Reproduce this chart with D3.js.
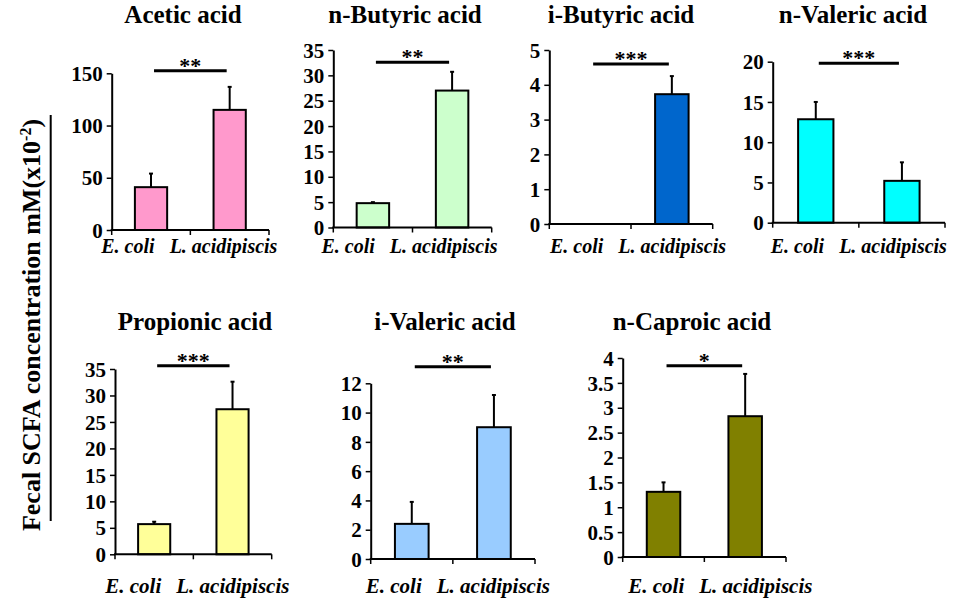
<!DOCTYPE html>
<html>
<head>
<meta charset="utf-8">
<script src="https://cdn.jsdelivr.net/npm/d3@7/dist/d3.min.js"></script>
<style>
    body { margin: 0; background: #fff; }
    svg text { font-family: "Liberation Serif", "Times New Roman", Times, Tinos, "DejaVu Serif", serif; font-weight: bold; fill: #000; }
</style>
</head>
<body>
<div id="chart"></div>
<script>
//两组菌
const groups = ['E. coli', 'L. acidipiscis'];
const acids = ['Acetic acid', 'n-Butyric acid', 'i-Butyric acid', 'n-Valeric acid',
    'Propionic acid', 'i-Valeric acid', 'n-Caproic acid'];
//均值 [E. coli, L. acidipiscis]
const means = [[41, 115], [4.8, 27], [0, 3.73], [12.85, 5.2], [5.7, 27.4], [2.4, 9.0], [1.31, 2.83]];
//误差（只画上半）
const errors = [[13, 22], [0.2, 3.7], [0, 0.52], [2.15, 2.3], [0.45, 5.2], [1.5, 2.2], [0.19, 0.85]];
const yTicks = [
    [0, 50, 100, 150],
    [0, 5, 10, 15, 20, 25, 30, 35],
    [0, 1, 2, 3, 4, 5],
    [0, 5, 10, 15, 20],
    [0, 5, 10, 15, 20, 25, 30, 35],
    [0, 2, 4, 6, 8, 10, 12],
    [0, 0.5, 1, 1.5, 2, 2.5, 3, 3.5, 4]
];
const stars = ['**', '**', '***', '***', '***', '**', '*'];
const colors = ['#ff99cc', '#ccffcc', '#0066cc', '#00ffff', '#ffff99', '#99ccff', '#808000'];
const yLabel = 'Fecal SCFA concentration mM(x10';

//每个小图的位置
const layout = [
    { x0: 111.7, x1: 269, yTop: 73.3, yBot: 230, tx: 183, ty: 23, sigY: 70.7, labY: 253, labDx: -1, fs: 20 },
    { x0: 333.3, x1: 491.7, yTop: 50, yBot: 227.5, tx: 405, ty: 23, sigY: 62.3, labY: 253, labDx: -3, fs: 20 },
    { x0: 549.3, x1: 712.7, yTop: 50, yBot: 224, tx: 621, ty: 23, sigY: 64, labY: 253, labDx: 7, fs: 20 },
    { x0: 772.7, x1: 945, yTop: 61.7, yBot: 222.7, tx: 853, ty: 23, sigY: 63.3, labY: 253, labDx: 0, fs: 20 },
    { x0: 115, x1: 271.7, yTop: 369, yBot: 554.3, tx: 195, ty: 330, sigY: 365.7, labY: 593, labDx: 4, fs: 21 },
    { x0: 370.7, x1: 535, yTop: 383.3, yBot: 559, tx: 445, ty: 330, sigY: 366.7, labY: 593, labDx: 5, fs: 21 },
    { x0: 622.7, x1: 786, yTop: 358, yBot: 557, tx: 692, ty: 330, sigY: 365.7, labY: 593, labDx: 16, fs: 21 }
];

const width = 957, height = 605;
let svg = d3.select('#chart').append('svg')
    .attr('width', width)
    .attr('height', height);

function drawPanel(i) {
    let L = layout[i];
    let g = svg.append('g');
    let x = d3.scaleBand()
        .domain(groups)
        .range([L.x0, L.x1])
        .paddingInner(0.59)
        .paddingOuter(0.295);
    let step = x.step();
    let y = d3.scaleLinear()
        .domain([0, d3.max(yTicks[i])])
        .range([L.yBot, L.yTop]);

    //标题
    g.append('text')
        .attr('x', L.tx)
        .attr('y', L.ty)
        .attr('text-anchor', 'middle')
        .style('font-size', '25px')
        .text(acids[i]);

    //柱子
    let rows = groups.map((d, j) => ({ name: d, v: means[i][j], e: errors[i][j] }));
    g.selectAll('rect')
        .data(rows.filter(d => d.v > 0))
        .enter()
        .append('rect')
        .attr('x', d => x(d.name))
        .attr('y', d => y(d.v))
        .attr('width', x.bandwidth())
        .attr('height', d => L.yBot - y(d.v))
        .attr('fill', colors[i])
        .attr('stroke', '#000')
        .attr('stroke-width', 2);

    //误差线
    let eb = g.selectAll('.err')
        .data(rows.filter(d => d.e > 0))
        .enter()
        .append('g')
        .attr('class', 'err');
    eb.append('line')
        .attr('x1', d => x(d.name) + x.bandwidth() / 2)
        .attr('x2', d => x(d.name) + x.bandwidth() / 2)
        .attr('y1', d => y(d.v))
        .attr('y2', d => y(d.v + d.e))
        .attr('stroke', '#000')
        .attr('stroke-width', 2);
    eb.append('line')
        .attr('x1', d => x(d.name) + x.bandwidth() / 2 - 2)
        .attr('x2', d => x(d.name) + x.bandwidth() / 2 + 2)
        .attr('y1', d => y(d.v + d.e))
        .attr('y2', d => y(d.v + d.e))
        .attr('stroke', '#000')
        .attr('stroke-width', 2);

    //y轴
    let yAxis = d3.axisLeft(y)
        .tickValues(yTicks[i])
        .tickFormat(d => String(d))
        .tickSize(5)
        .tickSizeOuter(0)
        .tickPadding(4);
    let ya = g.append('g')
        .attr('transform', 'translate(' + L.x0 + ',0)')
        .call(yAxis);
    ya.attr('font-family', null).attr('font-size', null);
    ya.select('.domain').attr('stroke-width', 2);
    ya.selectAll('.tick line').attr('stroke-width', 1.5);
    ya.selectAll('.tick text')
        .style('font-size', '21px')
        .attr('dy', '0.34em');

    //x轴：只有分隔刻度
    let bounds = [L.x0, L.x0 + step, L.x1];
    g.append('line')
        .attr('x1', L.x0 - 1)
        .attr('x2', L.x1)
        .attr('y1', L.yBot)
        .attr('y2', L.yBot)
        .attr('stroke', '#000')
        .attr('stroke-width', 2);
    g.selectAll('.xtick')
        .data(bounds)
        .enter()
        .append('line')
        .attr('class', 'xtick')
        .attr('x1', d => d)
        .attr('x2', d => d)
        .attr('y1', L.yBot)
        .attr('y2', L.yBot + 5)
        .attr('stroke', '#000')
        .attr('stroke-width', 1.5);

    //x标签
    let lab = g.append('text')
        .attr('x', (L.x0 + L.x1) / 2 + L.labDx)
        .attr('y', L.labY)
        .attr('text-anchor', 'middle')
        .style('font-size', L.fs + 'px')
        .style('font-style', 'italic');
    lab.selectAll('tspan')
        .data(groups)
        .enter()
        .append('tspan')
        .attr('dx', (d, j) => (j ? 15 : 0))
        .text(d => d);

    //显著性
    let c0 = x(groups[0]) + x.bandwidth() / 2 + 3;
    let c1 = x(groups[1]) + x.bandwidth() / 2 - 3;
    g.append('line')
        .attr('x1', c0)
        .attr('x2', c1)
        .attr('y1', L.sigY)
        .attr('y2', L.sigY)
        .attr('stroke', '#000')
        .attr('stroke-width', 3);
    g.append('text')
        .attr('x', (c0 + c1) / 2)
        .attr('y', L.sigY + 2)
        .attr('text-anchor', 'middle')
        .style('font-size', '22px')
        .text(stars[i]);
}

acids.forEach((d, i) => drawPanel(i));

//左侧总标题
let yt = svg.append('text')
    .attr('transform', 'translate(40,325) rotate(-90)')
    .attr('text-anchor', 'middle')
    .style('font-size', '26px');
yt.append('tspan').text(yLabel);
yt.append('tspan').attr('dy', -9).style('font-size', '16px').text('-2');
yt.append('tspan').attr('dy', 9).text(')');

svg.append('line')
    .attr('x1', 50.7)
    .attr('x2', 50.7)
    .attr('y1', 115)
    .attr('y2', 521)
    .attr('stroke', '#000')
    .attr('stroke-width', 2);
</script>
</body>
</html>
